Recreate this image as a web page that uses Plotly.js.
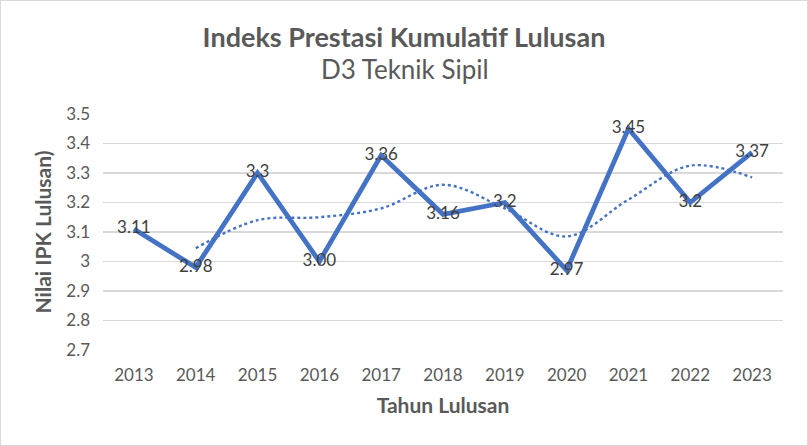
<!DOCTYPE html>
<html>
<head>
<meta charset="utf-8">
<script src="https://cdn.plot.ly/plotly-3.0.1.min.js"></script>
<style>
  body { margin: 0; background: #fff; }
  #chart { width: 808px; height: 446px; box-sizing: border-box; border: 1px solid #d9d9d9; }
</style>
</head>
<body>
<div id="chart"></div>
<script>
// data
const years = ['2013', '2014', '2015', '2016', '2017', '2018', '2019', '2020', '2021', '2022', '2023'];
const ipk = [3.11, 2.98, 3.3, 3.00, 3.36, 3.16, 3.2, 2.97, 3.45, 3.2, 3.37];
const ipkLabels = ['3.11', '2.98', '3.3', '3.00', '3.36', '3.16', '3.2', '2.97', '3.45', '3.2', '3.37'];
// dotted trend line (2-period moving average), from 2014 on
const trendYears = ['2014', '2015', '2016', '2017', '2018', '2019', '2020', '2021', '2022', '2023'];
const trend = [3.045, 3.14, 3.15, 3.18, 3.26, 3.18, 3.085, 3.21, 3.325, 3.285];
const yTicks = [2.7, 2.8, 2.9, 3, 3.1, 3.2, 3.3, 3.4, 3.5];
const yTickText = ['2.7', '2.8', '2.9', '3', '3.1', '3.2', '3.3', '3.4', '3.5'];

const fontFam = 'Lato, "Open Sans", sans-serif';

const traces = [
    {
        x: years,
        y: ipk,
        type: 'scatter',
        mode: 'lines+text',
        text: ipkLabels,
        textposition: 'middle center',
        textfont: { family: fontFam, size: 17, color: '#404040' },
        line: { color: '#4472C4', width: 4.8 },
        cliponaxis: false
    },
    {
        x: trendYears,
        y: trend,
        type: 'scatter',
        mode: 'lines',
        line: { color: '#4472C4', width: 2.4, dash: 'dot', shape: 'spline' },
        hoverinfo: 'skip'
    }
];

const layout = {
    width: 806,
    height: 444,
    margin: { l: 102, r: 24, t: 113, b: 95 },
    paper_bgcolor: '#ffffff',
    plot_bgcolor: '#ffffff',
    showlegend: false,
    font: { family: fontFam, color: '#595959' },
    title: {
        text: '<b>Indeks Prestasi Kumulatif Lulusan</b>',
        font: { family: fontFam, size: 27, color: '#595959' },
        x: 0.5,
        xanchor: 'center',
        y: 0.917,
        yanchor: 'middle'
    },
    annotations: [{
        text: 'D3 Teknik Sipil',
        xref: 'paper', yref: 'paper',
        x: 0.444, y: 1.191,
        xanchor: 'center', yanchor: 'middle',
        showarrow: false,
        font: { family: fontFam, size: 26, color: '#595959' }
    }],
    xaxis: {
        type: 'category',
        categoryorder: 'array',
        categoryarray: years,
        range: [-0.5, 10.5],
        showgrid: false,
        zeroline: false,
        showline: false,
        ticks: '',
        automargin: false,
        ticklabelstandoff: 13,
        tickfont: { size: 17, color: '#595959' },
        title: { text: '<b>Tahun Lulusan</b>', font: { size: 21, color: '#595959' }, standoff: 14 }
    },
    yaxis: {
        range: [2.7, 3.5],
        tickvals: yTicks,
        ticktext: yTickText,
        showgrid: true,
        gridcolor: '#d9d9d9',
        gridwidth: 1.5,
        zeroline: false,
        showline: false,
        ticks: '',
        automargin: false,
        ticklabelstandoff: 12,
        tickfont: { size: 17, color: '#595959' },
        title: { text: '<b>Nilai IPK Lulusan)</b>', font: { size: 21, color: '#595959' }, standoff: 8 }
    }
};

Plotly.newPlot('chart', traces, layout, { displayModeBar: false, staticPlot: true });
</script>
</body>
</html>
